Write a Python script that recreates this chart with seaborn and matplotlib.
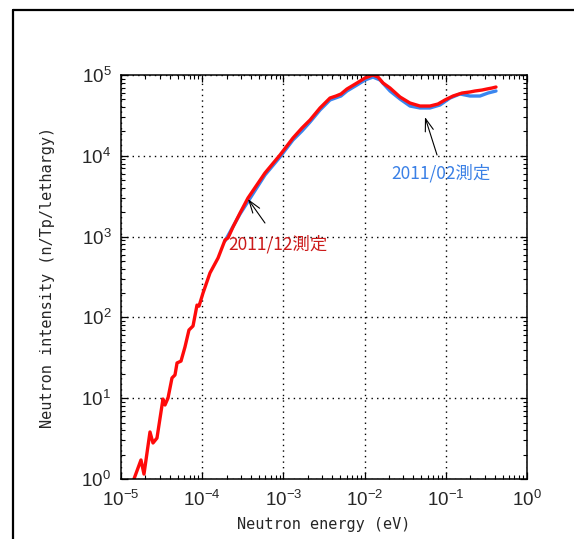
import numpy as np
import pandas as pd
import matplotlib
matplotlib.use("Agg")
import matplotlib.pyplot as plt
from matplotlib.lines import Line2D
from matplotlib.ticker import LogLocator, LogFormatterSciNotation, NullFormatter
import seaborn as sns

# ---- data ----
red_energy = [1.445e-5, 1.762e-5, 1.919e-5, 2.275e-5, 2.477e-5, 2.773e-5, 3.289e-5, 3.483e-5,
              3.793e-5, 4.246e-5, 4.624e-5, 4.898e-5, 5.483e-5, 6.138e-5, 6.871e-5, 7.709e-5,
              8.630e-5, 9.141e-5, 1.023e-4, 1.247e-4, 1.567e-4, 1.910e-4, 2.080e-4, 2.393e-4,
              2.924e-4, 3.664e-4, 5.929e-4, 9.078e-4, 1.312e-3, 1.694e-3, 2.128e-3, 2.825e-3,
              3.750e-3, 4.446e-3, 5.117e-3, 6.067e-3, 8.054e-3, 1.012e-2, 1.268e-2, 1.462e-2,
              1.687e-2, 2.056e-2, 2.729e-2, 3.622e-2, 4.808e-2, 6.383e-2, 8.017e-2, 9.772e-2,
              0.1227, 0.1585, 0.1986, 0.2291, 0.2793, 0.3214, 0.3707, 0.4150]
red_intensity = [1.0, 1.72, 1.15, 3.82, 2.79, 3.21, 9.77, 8.24,
                 10.05, 17.8, 19.4, 27.3, 28.8, 43.1, 69.8, 78.3,
                 142, 138, 200, 355, 543, 908, 962, 1315,
                 1959, 3006, 6124, 10230, 16600, 22080, 27730, 39080,
                 51880, 54950, 58210, 67140, 79620, 91830, 100000, 94410,
                 79620, 69020, 53460, 44980, 41300, 41300, 43750, 49090,
                 54950, 59840, 61660, 63390, 65160, 67140, 69020, 70960]

blue_energy = [1.910e-4, 2.924e-4, 5.929e-4, 9.078e-4, 1.312e-3, 1.694e-3, 2.128e-3, 2.825e-3,
               3.750e-3, 5.117e-3, 6.067e-3, 8.054e-3, 1.012e-2, 1.268e-2, 1.549e-2, 2.056e-2,
               2.729e-2, 3.622e-2, 4.808e-2, 6.383e-2, 8.492e-2, 0.1127, 0.1496, 0.1986,
               0.2636, 0.3311, 0.4150]
blue_intensity = [883, 1905, 5781, 9661, 15700, 20280, 26180, 36900,
                  49090, 54950, 63390, 75160, 86700, 94410, 86700, 63390,
                  50470, 41300, 39080, 39080, 42560, 51880, 58210, 54950,
                  54950, 59840, 63390]

series_names = ["2011/02測定", "2011/12測定"]
x_label = "Neutron energy (eV)"
y_label = "Neutron intensity (n/Tp/lethargy)"

df = pd.concat([
    pd.DataFrame({"energy": blue_energy, "intensity": blue_intensity, "series": series_names[0]}),
    pd.DataFrame({"energy": red_energy, "intensity": red_intensity, "series": series_names[1]}),
], ignore_index=True)

sns.set_style("ticks")
plt.rcParams["font.family"] = ["Liberation Sans Narrow", "Liberation Sans", "DejaVu Sans"]
plt.rcParams["mathtext.default"] = "regular"

fig = plt.figure(figsize=(5.74, 5.39), dpi=100)
W, H = 574, 539
ax = fig.add_axes([121 / W, 1 - 479 / H, (527 - 121) / W, (479 - 75) / H])

palette = {series_names[0]: "#3a86ef", series_names[1]: "#ff0a0a"}
sns.lineplot(data=df, x="energy", y="intensity", hue="series", palette=palette,
             estimator=None, sort=False, linewidth=2.4, legend=False, ax=ax)

ax.set_xscale("log")
ax.set_yscale("log")
ax.set_xlim(1e-5, 1)
ax.set_ylim(1, 1e5)

for axis in (ax.xaxis, ax.yaxis):
    axis.set_major_locator(LogLocator(base=10, numticks=10))
    axis.set_minor_locator(LogLocator(base=10, subs=np.arange(2, 10), numticks=10))
    axis.set_major_formatter(LogFormatterSciNotation())
    axis.set_minor_formatter(NullFormatter())

ax.tick_params(which="both", direction="in", top=True, right=True, color="black")
ax.tick_params(which="major", length=5, width=0.9, labelsize=13.5, pad=7)
ax.tick_params(which="minor", length=3, width=0.8)
ax.tick_params(axis="x", which="major", pad=8)
for sp in ax.spines.values():
    sp.set_linewidth(1.1)
    sp.set_color("black")

ax.grid(True, which="major", color="black", linestyle=(0, (1, 3)), linewidth=1.0)

ax.set_xlabel(x_label, family="DejaVu Sans Mono", fontsize=11, labelpad=5)
ax.set_ylabel(y_label, family="DejaVu Sans Mono", fontsize=11, labelpad=19)

cjk = ["Noto Sans CJK JP", "DejaVu Sans"]
ax.text(2.08e-4, 810, series_names[1], color="#cc1a1a", fontsize=12.5, family=cjk,
        ha="left", va="center")
ax.annotate("", xy=(3.66e-4, 2918), xytext=(5.93e-4, 1473),
            arrowprops=dict(arrowstyle="->,head_length=0.9,head_width=0.3", lw=0.8,
                            color="black", shrinkA=0, shrinkB=0))
ax.text(2.11e-2, 6124, series_names[0], color="#3a80e6", fontsize=12.5, family=cjk,
        ha="left", va="center")
ax.annotate("", xy=(5.54e-2, 30200), xytext=(7.80e-2, 10230),
            arrowprops=dict(arrowstyle="->,head_length=0.9,head_width=0.3", lw=0.8,
                            color="black", shrinkA=0, shrinkB=0))

# outer frame (left and top edges)
fig.add_artist(Line2D([13 / W, 13 / W], [0, 1 - 10 / H], transform=fig.transFigure,
                      color="black", linewidth=1.6))
fig.add_artist(Line2D([13 / W, 1], [1 - 10 / H, 1 - 10 / H], transform=fig.transFigure,
                      color="black", linewidth=1.6))

fig.savefig("out.png", dpi=100)
